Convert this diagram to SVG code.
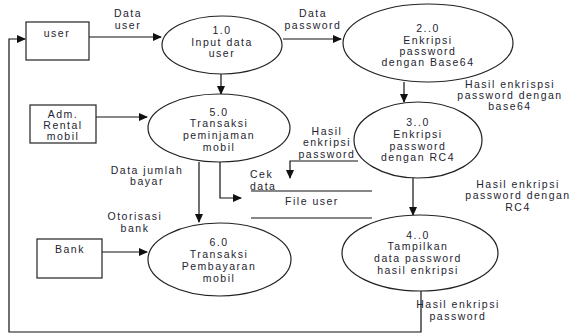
<svg xmlns="http://www.w3.org/2000/svg" width="575" height="335" viewBox="0 0 575 335">
<defs>
<marker id="ah" markerWidth="9" markerHeight="8" refX="8" refY="4" orient="auto" markerUnits="userSpaceOnUse">
<path d="M0,0 L9,4 L0,8 z" fill="#111"/>
</marker>
<style>
.n{fill:#fff;stroke:#222;stroke-width:1.2}
.t{font-family:"Liberation Sans",Arial,sans-serif;font-size:10.5px;letter-spacing:1.5px;fill:#1e2430;text-anchor:middle}
.s{text-anchor:start}
.c{fill:none;stroke:#111;stroke-width:1.2}
.a{marker-end:url(#ah)}
</style>
</defs>
<rect width="575" height="335" fill="#fff"/>
<g id="connectors">
<path class="c a" d="M89,37 H161"/>
<path class="c a" d="M283,39 H341"/>
<path class="c a" d="M221,74 V94"/>
<path class="c a" d="M404,82 V102"/>
<path class="c a" d="M96,117 H147"/>
<path class="c a" d="M358,161 H290 V178"/>
<path class="c a" d="M220,162 V198 H241"/>
<path class="c a" d="M199,162 V222"/>
<path class="c a" d="M413,178 V215"/>
<path class="c a" d="M102,252 H147"/>
<path class="c a" d="M421,291 V332 H9 V39 H25"/>
<text class="t" x="128" y="17">Data</text>
<text class="t" x="128" y="29">user</text>
<text class="t" x="313" y="17">Data</text>
<text class="t" x="313" y="29">password</text>
<text class="t" x="510" y="88">Hasil enkrispsi</text>
<text class="t" x="510" y="99">password dengan</text>
<text class="t" x="510" y="110">base64</text>
<text class="t" x="327" y="135">Hasil</text>
<text class="t" x="327" y="146">enkripsi</text>
<text class="t" x="327" y="158">password</text>
<text class="t s" x="250" y="178">Cek</text>
<text class="t s" x="250" y="190">data</text>
<text class="t" x="147" y="174">Data jumlah</text>
<text class="t" x="147" y="185">bayar</text>
<text class="t" x="135" y="220">Otorisasi</text>
<text class="t" x="135" y="232">bank</text>
<text class="t" x="518" y="188">Hasil enkripsi</text>
<text class="t" x="518" y="199">password dengan</text>
<text class="t" x="518" y="211">RC4</text>
<text class="t" x="458" y="308">Hasil enkripsi</text>
<text class="t" x="458" y="320">password</text>
</g>
<g id="user">
<rect class="n" x="26" y="22" width="63" height="38"/>
<text class="t" x="57" y="37">user</text>
</g>
<g id="adm">
<rect class="n" x="30" y="105" width="66" height="38"/>
<text class="t" x="63" y="118">Adm.</text>
<text class="t" x="63" y="129">Rental</text>
<text class="t" x="63" y="140">mobil</text>
</g>
<g id="bank">
<rect class="n" x="37" y="239" width="65" height="39"/>
<text class="t" x="70" y="253">Bank</text>
</g>
<g id="p1">
<ellipse class="n" cx="222" cy="45" rx="60" ry="29"/>
<text class="t" x="222" y="34">1.0</text>
<text class="t" x="222" y="46">Input data</text>
<text class="t" x="222" y="57">user</text>
</g>
<g id="p2">
<ellipse class="n" cx="428" cy="43" rx="85" ry="39"/>
<text class="t" x="428" y="32">2..0</text>
<text class="t" x="428" y="44">Enkripsi</text>
<text class="t" x="428" y="55">password</text>
<text class="t" x="428" y="66">dengan Base64</text>
</g>
<g id="p5">
<ellipse class="n" cx="219" cy="128" rx="71" ry="34"/>
<text class="t" x="219" y="116">5.0</text>
<text class="t" x="219" y="127">Transaksi</text>
<text class="t" x="219" y="139">peminjaman</text>
<text class="t" x="219" y="151">mobil</text>
</g>
<g id="p3">
<ellipse class="n" cx="418" cy="140" rx="64" ry="38"/>
<text class="t" x="418" y="126">3..0</text>
<text class="t" x="418" y="138">Enkripsi</text>
<text class="t" x="418" y="150">password</text>
<text class="t" x="418" y="161">dengan RC4</text>
</g>
<g id="fileuser">
<path class="c" d="M251,191 H372 M251,218 H372"/>
<text class="t" x="312" y="205">File user</text>
</g>
<g id="p6">
<ellipse class="n" cx="219.5" cy="259.5" rx="71.5" ry="36.5"/>
<text class="t" x="219" y="246">6.0</text>
<text class="t" x="219" y="258">Transaksi</text>
<text class="t" x="219" y="270">Pembayaran</text>
<text class="t" x="219" y="282">mobil</text>
</g>
<g id="p4">
<ellipse class="n" cx="420" cy="253" rx="78" ry="38"/>
<text class="t" x="418" y="239">4..0</text>
<text class="t" x="418" y="250">Tampilkan</text>
<text class="t" x="418" y="262">data password</text>
<text class="t" x="418" y="274">hasil enkripsi</text>
</g>
</svg>
